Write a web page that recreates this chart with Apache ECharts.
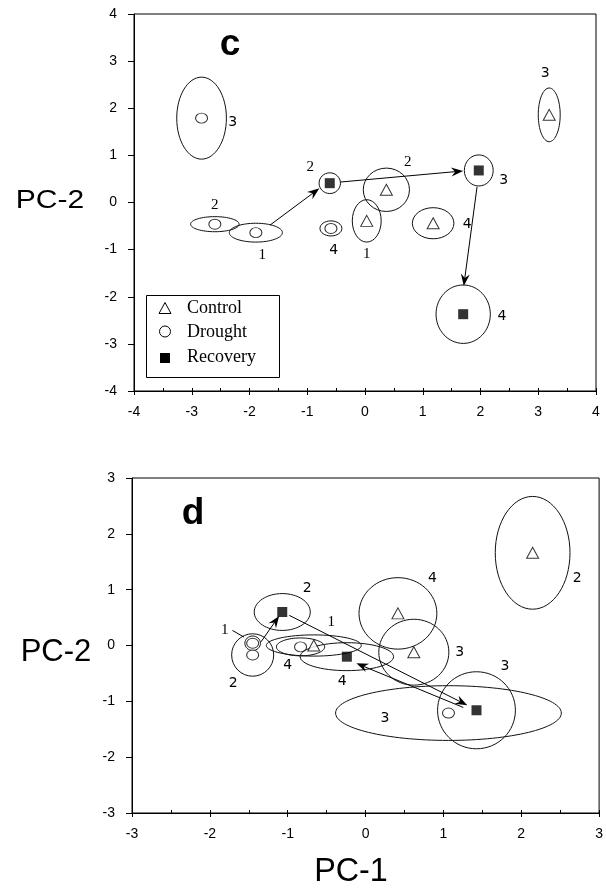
<!DOCTYPE html>
<html><head><meta charset="utf-8">
<script src="https://cdn.jsdelivr.net/npm/echarts@6/dist/echarts.min.js"></script>
<style>html,body{margin:0;padding:0;background:#fff}#main{width:606px;height:891px}</style>
</head><body><div id="main"></div>
<script>
// ---------- time points (1..4) ----------
const timePoints = [1, 2, 3, 4];

// ---------- Panel c : group means (PC-1, PC-2) and ellipse half-widths ----------
const cControlX   = [0.03, 0.37, 3.19, 1.18];
const cControlY   = [-0.39, 0.27, 1.86, -0.44];
const cControlSdX = [0.25, 0.40, 0.19, 0.36];
const cControlSdY = [0.45, 0.46, 0.57, 0.33];

const cDroughtX   = [-1.89, -2.60, -2.83, -0.59];
const cDroughtY   = [-0.64, -0.46, 1.79, -0.55];
const cDroughtSdX = [0.46, 0.42, 0.43, 0.19];
const cDroughtSdY = [0.20, 0.16, 0.87, 0.16];

const cRecoveryX   = [null, -0.61, 1.97, 1.70];
const cRecoveryY   = [null, 0.41, 0.68, -2.37];
const cRecoverySdX = [null, 0.185, 0.25, 0.47];
const cRecoverySdY = [null, 0.22, 0.33, 0.62];

// time-point label anchors (data units)
const cControlLabX  = [0.03, 0.74, 3.12, 1.77];
const cControlLabY  = [-1.09, 0.86, 2.73, -0.46];
const cDroughtLabX  = [-1.78, -2.60, -2.29, -0.54];
const cDroughtLabY  = [-1.11, -0.05, 1.71, -1.01];
const cRecoveryLabX = [null, -0.95, 2.40, 2.37];
const cRecoveryLabY = [null, 0.75, 0.46, -2.41];

// arrows (from -> to, data units)
const cArrowFromX = [-1.645, -0.42, 1.94];
const cArrowFromY = [-0.48, 0.435, 0.33];
const cArrowToX   = [-0.79, 1.70, 1.71];
const cArrowToY   = [0.30, 0.67, -1.77];

// ---------- Panel d ----------
const dControlX   = [-0.665, 2.146, 0.62, 0.416];
const dControlY   = [0.0, 1.66, -0.12, 0.575];
const dControlSdX = [0.61, 0.48, 0.45, 0.50];
const dControlSdY = [0.19, 1.01, 0.59, 0.64];

const dDroughtX   = [-1.45, -1.45, 1.065, -0.835];
const dDroughtY   = [0.04, -0.17, -1.21, -0.025];
const dDroughtSdX = [0.10, 0.27, 1.45, 0.31];
const dDroughtSdY = [0.13, 0.38, 0.49, 0.16];

const dRecoveryX   = [null, -1.07, 1.425, -0.24];
const dRecoveryY   = [null, 0.60, -1.16, -0.20];
const dRecoverySdX = [null, 0.36, 0.50, 0.60];
const dRecoverySdY = [null, 0.33, 0.69, 0.25];

const dControlLabX  = [-0.44, 2.72, 1.21, 0.86];
const dControlLabY  = [0.42, 1.20, -0.13, 1.20];
const dDroughtLabX  = [-1.81, -1.70, 0.25, -1.00];
const dDroughtLabY  = [0.27, -0.67, -1.31, -0.35];
const dRecoveryLabX = [null, -0.75, 1.79, -0.30];
const dRecoveryLabY = [null, 1.02, -0.37, -0.64];

const dArrowFromX = [-1.343, -0.98, 1.256];
const dArrowFromY = [0.065, 0.54, -1.11];
const dArrowToX   = [-1.11, 1.307, -0.118];
const dArrowToY   = [0.53, -1.07, -0.32];

// leader line for drought label "1" in panel d
const dLeaderX = [-1.71, -1.56];
const dLeaderY = [0.27, 0.15];

// axis tick values
const cTicks = [-4, -3, -2, -1, 0, 1, 2, 3, 4];
const dTicks = [-3, -2, -1, 0, 1, 2, 3];

// ---------- helpers ----------
function pts(xs, ys) { const o = []; xs.forEach((x, i) => { if (x != null) o.push([x, ys[i]]); }); return o; }
function ells(xs, ys, sx, sy) { const o = []; xs.forEach((x, i) => { if (x != null) o.push([x, ys[i], sx[i], sy[i]]); }); return o; }
function labs(xs, ys) { const o = []; xs.forEach((x, i) => { if (x != null) o.push([x, ys[i], timePoints[i]]); }); return o; }
function arrows(fx, fy, tx, ty) { return fx.map((x, i) => [x, fy[i], tx[i], ty[i]]); }

function renderEllipse(params, api) {
  const c = api.coord([api.value(0), api.value(1)]);
  const s = api.size([api.value(2), api.value(3)]);
  return { type: 'ellipse', shape: { cx: c[0], cy: c[1], rx: s[0], ry: s[1] },
           style: { fill: 'none', stroke: '#111', lineWidth: 1 } };
}
function renderArrow(params, api) {
  const p1 = api.coord([api.value(0), api.value(1)]);
  const p2 = api.coord([api.value(2), api.value(3)]);
  const dx = p2[0] - p1[0], dy = p2[1] - p1[1], L = Math.hypot(dx, dy);
  const ux = dx / L, uy = dy / L, nx = -uy, ny = ux;
  const hl = 12, hw = 4.5, notch = 8;
  const poly = [p2,
    [p2[0] - ux * hl + nx * hw, p2[1] - uy * hl + ny * hw],
    [p2[0] - ux * notch, p2[1] - uy * notch],
    [p2[0] - ux * hl - nx * hw, p2[1] - uy * hl - ny * hw]];
  return { type: 'group', children: [
    { type: 'line', shape: { x1: p1[0], y1: p1[1], x2: p2[0] - ux * notch, y2: p2[1] - uy * notch },
      style: { stroke: '#000', lineWidth: 1 } },
    { type: 'polygon', shape: { points: poly }, style: { fill: '#000' } }
  ]};
}
function renderLeader(params, api) {
  const p1 = api.coord([api.value(0), api.value(1)]);
  const p2 = api.coord([api.value(2), api.value(3)]);
  return { type: 'line', shape: { x1: p1[0], y1: p1[1], x2: p2[0], y2: p2[1] }, style: { stroke: '#000', lineWidth: 1 } };
}
const serifNum = '15px "Liberation Serif", serif';
const sansNum = '14px "DejaVu Sans", sans-serif';
function labelRenderer(fontFn) {
  return function (params, api) {
    const c = api.coord([api.value(0), api.value(1)]);
    const t = api.value(2);
    return { type: 'text', x: c[0], y: c[1],
      style: { text: String(t), font: fontFn(t), fill: '#000', align: 'center', verticalAlign: 'middle' } };
  };
}
const cFont = t => (t <= 2 ? serifNum : sansNum);
const dFont = t => (t === 1 ? serifNum : sansNum);

const tickFont = { fontFamily: '"Liberation Sans", Arial, sans-serif', fontSize: 14, color: '#000' };

function mainX(grid, mn, mx) {
  return { gridIndex: grid, type: 'value', min: mn, max: mx, interval: 1, position: 'bottom',
    axisLine: { show: true, onZero: false, lineStyle: { color: '#000', width: 1 } },
    axisTick: { show: true, inside: false, length: 4, lineStyle: { color: '#000' } },
    axisLabel: Object.assign({ margin: 14 }, tickFont), splitLine: { show: false } };
}
function minorX(grid, mn, mx) {
  return { gridIndex: grid, type: 'value', min: mn, max: mx, interval: 0.5, position: 'bottom',
    axisLine: { show: false, onZero: false }, axisTick: { show: true, inside: true, length: 3, lineStyle: { color: '#000' } },
    axisLabel: { show: false }, splitLine: { show: false } };
}
function mainY(grid, mn, mx) {
  return { gridIndex: grid, type: 'value', min: mn, max: mx, interval: 1,
    axisLine: { show: true, onZero: false, lineStyle: { color: '#000', width: 1 } },
    axisTick: { show: true, inside: false, length: 6, lineStyle: { color: '#000' } },
    axisLabel: Object.assign({ margin: 17 }, tickFont), splitLine: { show: false } };
}

const hollow = { color: '#fff', borderColor: '#000', borderWidth: 1 };
function panelSeries(xi, yi, C, D, R, labelFont, arr) {
  return [
    { type: 'custom', xAxisIndex: xi, yAxisIndex: yi, renderItem: renderEllipse, data: C.e.concat(D.e, R.e), z: 2, silent: true },
    { type: 'custom', xAxisIndex: xi, yAxisIndex: yi, renderItem: renderArrow, data: arr, z: 3, silent: true },
    { type: 'custom', xAxisIndex: xi, yAxisIndex: yi, renderItem: labelRenderer(labelFont), data: C.l.concat(D.l, R.l), z: 4, silent: true },
    { name: 'Control', type: 'scatter', xAxisIndex: xi, yAxisIndex: yi, symbol: 'triangle', symbolSize: [12, 11], itemStyle: hollow, data: C.p, z: 5 },
    { name: 'Drought', type: 'scatter', xAxisIndex: xi, yAxisIndex: yi, symbol: 'circle', symbolSize: [12, 10], itemStyle: hollow, data: D.p, z: 5 },
    { name: 'Recovery', type: 'scatter', xAxisIndex: xi, yAxisIndex: yi, symbol: 'rect', symbolSize: [10, 10], itemStyle: { color: '#000' }, data: R.p, z: 5 }
  ];
}

const cSeries = panelSeries(0, 0,
  { p: pts(cControlX, cControlY), e: ells(cControlX, cControlY, cControlSdX, cControlSdY), l: labs(cControlLabX, cControlLabY) },
  { p: pts(cDroughtX, cDroughtY), e: ells(cDroughtX, cDroughtY, cDroughtSdX, cDroughtSdY), l: labs(cDroughtLabX, cDroughtLabY) },
  { p: pts(cRecoveryX, cRecoveryY), e: ells(cRecoveryX, cRecoveryY, cRecoverySdX, cRecoverySdY), l: labs(cRecoveryLabX, cRecoveryLabY) },
  cFont, arrows(cArrowFromX, cArrowFromY, cArrowToX, cArrowToY));
const dSeries = panelSeries(2, 1,
  { p: pts(dControlX, dControlY), e: ells(dControlX, dControlY, dControlSdX, dControlSdY), l: labs(dControlLabX, dControlLabY) },
  { p: pts(dDroughtX, dDroughtY), e: ells(dDroughtX, dDroughtY, dDroughtSdX, dDroughtSdY), l: labs(dDroughtLabX, dDroughtLabY) },
  { p: pts(dRecoveryX, dRecoveryY), e: ells(dRecoveryX, dRecoveryY, dRecoverySdX, dRecoverySdY), l: labs(dRecoveryLabX, dRecoveryLabY) },
  dFont, arrows(dArrowFromX, dArrowFromY, dArrowToX, dArrowToY));
dSeries.push({ type: 'custom', xAxisIndex: 2, yAxisIndex: 1, renderItem: renderLeader,
  data: [[dLeaderX[0], dLeaderY[0], dLeaderX[1], dLeaderY[1]]], z: 4, silent: true });

const chart = echarts.init(document.getElementById('main'), null, { renderer: 'canvas' });
chart.setOption({
  animation: false,
  backgroundColor: '#fff',
  grid: [
    { left: 134, top: 14, right: 10, bottom: 500, show: true, borderColor: '#000', borderWidth: 1 },
    { left: 132, top: 478, right: 3, bottom: 78, show: true, borderColor: '#000', borderWidth: 1 }
  ],
  xAxis: [mainX(0, cTicks[0], cTicks[cTicks.length - 1]), minorX(0, cTicks[0], cTicks[cTicks.length - 1]),
          mainX(1, dTicks[0], dTicks[dTicks.length - 1]), minorX(1, dTicks[0], dTicks[dTicks.length - 1])],
  yAxis: [mainY(0, cTicks[0], cTicks[cTicks.length - 1]), mainY(1, dTicks[0], dTicks[dTicks.length - 1])],
  series: cSeries.concat(dSeries),
  graphic: [
    { type: 'text', x: 230, y: 45, style: { text: 'c', font: 'bold 37px "Liberation Sans", Arial, sans-serif', fill: '#000', align: 'center', verticalAlign: 'middle' } },
    { type: 'text', x: 193, y: 514, style: { text: 'd', font: 'bold 37px "Liberation Sans", Arial, sans-serif', fill: '#000', align: 'center', verticalAlign: 'middle' } },
    { type: 'text', x: 50, y: 201, scaleX: 1.2, style: { text: 'PC-2', font: '25px "Liberation Sans", Arial, sans-serif', fill: '#000', align: 'center', verticalAlign: 'middle' } },
    { type: 'text', x: 56, y: 652, style: { text: 'PC-2', font: '31px "Liberation Sans", Arial, sans-serif', fill: '#000', align: 'center', verticalAlign: 'middle' } },
    { type: 'text', x: 351, y: 872, scaleX: 0.95, style: { text: 'PC-1', font: '34px "Liberation Sans", Arial, sans-serif', fill: '#000', align: 'center', verticalAlign: 'middle' } },
    // legend box
    { type: 'rect', shape: { x: 146.5, y: 295.5, width: 133, height: 82 }, style: { fill: '#fff', stroke: '#000', lineWidth: 1 }, z: 10 },
    { type: 'polygon', shape: { points: [[165, 302.5], [171, 313.5], [159, 313.5]] }, style: { fill: '#fff', stroke: '#000', lineWidth: 1 }, z: 11 },
    { type: 'circle', shape: { cx: 165, cy: 331.5, r: 5.5 }, style: { fill: '#fff', stroke: '#000', lineWidth: 1 }, z: 11 },
    { type: 'rect', shape: { x: 160, y: 353, width: 10, height: 10 }, style: { fill: '#000' }, z: 11 },
    { type: 'text', x: 187, y: 308, style: { text: 'Control', font: '18px "Liberation Serif", serif', fill: '#000', verticalAlign: 'middle' }, z: 11 },
    { type: 'text', x: 187, y: 332, style: { text: 'Drought', font: '18px "Liberation Serif", serif', fill: '#000', verticalAlign: 'middle' }, z: 11 },
    { type: 'text', x: 187, y: 357, style: { text: 'Recovery', font: '18px "Liberation Serif", serif', fill: '#000', verticalAlign: 'middle' }, z: 11 }
  ]
});
</script>
</body></html>
